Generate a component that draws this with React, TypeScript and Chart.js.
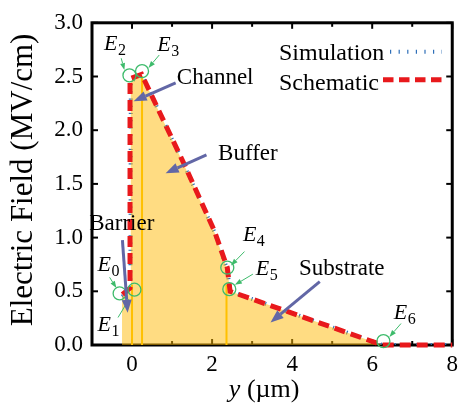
import React, { useEffect, useRef } from "react";
import { Chart, registerables } from "chart.js";
Chart.register(...registerables);

// ---- data (x in µm, y in MV/cm) ----
const simX = [-0.25, -0.04, -0.03, 0.25, 1.32, 2.05, 2.38, 2.45, 6.25, 8];
const simY = [0.45, 0.5, 2.46, 2.51, 1.66, 1.06, 0.7, 0.5, 0, 0];
const schX = [-0.24, -0.05, -0.05, 0.24, 1.32, 2.05, 2.38, 2.45, 6.25, 8];
const schY = [0.47, 0.53, 2.48, 2.52, 1.67, 1.07, 0.72, 0.5, 0, 0];
const markX = [0, 0.25, 2.36];
const markTop = [0.56, 2.5, 0.56];

const xMajor = [0, 2, 4, 6, 8];
const xMinor = [1, 3, 5, 7];
const yMajor = [0, 0.5, 1.0, 1.5, 2.0, 2.5, 3.0];

// E_n annotations
const eSubs = ["0", "1", "2", "3", "4", "5", "6"];
const eLabelX = [-0.86, -0.86, -0.70, 0.63, 2.77, 3.09, 6.54];
const eLabelY = [0.69, 0.135, 2.75, 2.74, 0.965, 0.65, 0.24];
const eCircX = [-0.31, 0.06, -0.064, 0.25, 2.38, 2.43, 6.28];
const eCircY = [0.48, 0.515, 2.51, 2.55, 0.72, 0.52, 0.036];
const eArrFromX = [-0.56, -0.35, -0.27, 0.68, 2.81, 3.02, 6.72];
const eArrFromY = [0.63, 0.256, 2.67, 2.70, 0.87, 0.66, 0.2];
const eArrToX = [-0.39, -0.07, -0.19, 0.41, 2.47, 2.57, 6.43];
const eArrToY = [0.53, 0.43, 2.56, 2.58, 0.74, 0.56, 0.075];

// region labels
const regText = ["Channel", "Buffer", "Barrier", "Substrate"];
const regX = [1.12, 2.15, -1.07, 4.17];
const regY = [2.43, 1.72, 1.07, 0.65];
const regTailX = [1.09, 1.86, -0.24, 4.69];
const regTailY = [2.44, 1.77, 0.976, 0.59];
const regHeadX = [0.04, 0.84, -0.11, 3.46];
const regHeadY = [2.27, 1.6, 0.3, 0.21];

const SERIF = "'Liberation Serif', 'Times New Roman', serif";
const RED = "#e8191c";
const BLUE = "#2f6fb8";
const GREEN = "#3dbb6b";
const SLATE = "#6267a6";

function arrow(ctx: CanvasRenderingContext2D, x1: number, y1: number, x2: number, y2: number, color: string, lw: number, hl: number, hw: number) {
  const ang = Math.atan2(y2 - y1, x2 - x1);
  const bx = x2 - Math.cos(ang) * hl;
  const by = y2 - Math.sin(ang) * hl;
  ctx.save();
  ctx.strokeStyle = color;
  ctx.fillStyle = color;
  ctx.lineWidth = lw;
  ctx.setLineDash([]);
  ctx.beginPath();
  ctx.moveTo(x1, y1);
  ctx.lineTo(bx, by);
  ctx.stroke();
  ctx.beginPath();
  ctx.moveTo(x2, y2);
  ctx.lineTo(bx + Math.sin(ang) * hw / 2, by - Math.cos(ang) * hw / 2);
  ctx.lineTo(bx - Math.sin(ang) * hw / 2, by + Math.cos(ang) * hw / 2);
  ctx.closePath();
  ctx.fill();
  ctx.restore();
}

const framePlugin = {
  id: "frame",
  beforeDatasetsDraw(chart: any) {
    const { ctx, chartArea: a, scales } = chart;
    const xs = scales.x, ys = scales.y;
    ctx.save();
    ctx.strokeStyle = "#000";
    ctx.lineWidth = 3;
    ctx.setLineDash([]);
    ctx.strokeRect(a.left, a.top, a.right - a.left, a.bottom - a.top);
    ctx.lineWidth = 2;
    const tick = (x1: number, y1: number, x2: number, y2: number) => {
      ctx.beginPath(); ctx.moveTo(x1, y1); ctx.lineTo(x2, y2); ctx.stroke();
    };
    xMajor.forEach((v) => {
      const p = xs.getPixelForValue(v);
      tick(p, a.bottom, p, a.bottom - 6);
      tick(p, a.top, p, a.top + 6);
    });
    xMinor.forEach((v) => {
      const p = xs.getPixelForValue(v);
      tick(p, a.bottom, p, a.bottom - 4);
      tick(p, a.top, p, a.top + 4);
    });
    yMajor.forEach((v) => {
      const p = ys.getPixelForValue(v);
      tick(a.left, p, a.left + 6, p);
      tick(a.right, p, a.right - 6, p);
    });
    ctx.restore();
  },
  afterDatasetsDraw(chart: any) {
    const { ctx, chartArea: a, scales } = chart;
    const X = (v: number) => scales.x.getPixelForValue(v);
    const Y = (v: number) => scales.y.getPixelForValue(v);
    ctx.save();
    for (let i = 0; i < eSubs.length; i++) {
      ctx.strokeStyle = GREEN;
      ctx.lineWidth = 1.3;
      ctx.setLineDash([]);
      ctx.beginPath();
      ctx.arc(X(eCircX[i]), Y(eCircY[i]), 6.5, 0, Math.PI * 2);
      ctx.stroke();
      arrow(ctx, X(eArrFromX[i]), Y(eArrFromY[i]), X(eArrToX[i]), Y(eArrToY[i]), GREEN, 1, 7, 5);
      ctx.fillStyle = "#000";
      ctx.textAlign = "left";
      ctx.textBaseline = "alphabetic";
      ctx.font = `italic 22px ${SERIF}`;
      const lx = X(eLabelX[i]), ly = Y(eLabelY[i]);
      ctx.fillText("E", lx, ly);
      const w = ctx.measureText("E").width;
      ctx.font = `16px ${SERIF}`;
      ctx.fillText(eSubs[i], lx + w + 0.5, ly + 5);
    }
    for (let i = 0; i < regText.length; i++) {
      ctx.fillStyle = "#000";
      ctx.font = `23px ${SERIF}`;
      ctx.textAlign = "left";
      ctx.textBaseline = "alphabetic";
      ctx.fillText(regText[i], X(regX[i]), Y(regY[i]));
      arrow(ctx, X(regTailX[i]), Y(regTailY[i]), X(regHeadX[i]), Y(regHeadY[i]), SLATE, 3, 13, 10);
    }
    // legend
    const lx0 = a.left + 187;
    ctx.fillStyle = "#000";
    ctx.font = `24px ${SERIF}`;
    ctx.textAlign = "left";
    ctx.fillText("Simulation", lx0, a.top + 37);
    ctx.fillText("Schematic", lx0, a.top + 67);
    ctx.strokeStyle = BLUE;
    ctx.lineWidth = 4;
    ctx.setLineDash([1.2, 7.4]);
    ctx.beginPath();
    ctx.moveTo(a.left + 298, a.top + 29);
    ctx.lineTo(a.left + 350, a.top + 29);
    ctx.stroke();
    ctx.strokeStyle = RED;
    ctx.lineWidth = 5;
    ctx.setLineDash([10.5, 5.5]);
    ctx.beginPath();
    ctx.moveTo(a.left + 291, a.top + 57);
    ctx.lineTo(a.left + 350, a.top + 57);
    ctx.stroke();
    ctx.setLineDash([]);
    // axis titles
    ctx.fillStyle = "#000";
    ctx.textBaseline = "alphabetic";
    ctx.font = `italic 26px ${SERIF}`;
    const t1 = "y";
    const t2 = " (\u00b5m)";
    const w1 = ctx.measureText(t1).width;
    ctx.font = `26px ${SERIF}`;
    const w2 = ctx.measureText(t2).width;
    const cx = (a.left + a.right) / 2 - 8;
    const sx = cx - (w1 + w2) / 2;
    ctx.font = `italic 26px ${SERIF}`;
    ctx.fillText(t1, sx, 397);
    ctx.font = `26px ${SERIF}`;
    ctx.fillText(t2, sx + w1, 397);
    ctx.translate(32, (a.top + a.bottom) / 2 - 4);
    ctx.rotate(-Math.PI / 2);
    ctx.textAlign = "center";
    ctx.font = `31px ${SERIF}`;
    ctx.fillText("Electric Field (MV/cm)", 0, 0);
    ctx.restore();
  },
};

export default function App() {
  const ref = useRef<HTMLCanvasElement | null>(null);
  useEffect(() => {
    document.body.style.margin = "0";
    const pts = (xs: number[], ys: number[]) => xs.map((x, i) => ({ x, y: ys[i] }));
    const markerSets = markX.map((x, i) => ({
      data: [{ x, y: 0 }, { x, y: markTop[i] }],
      showLine: true,
      borderColor: "#ffc000",
      borderWidth: 2,
      pointRadius: 0,
      fill: false,
      order: 3,
    }));
    const chart = new Chart(ref.current as HTMLCanvasElement, {
      type: "scatter",
      data: {
        datasets: [
          {
            label: "Schematic",
            data: pts(schX, schY),
            showLine: true,
            borderColor: RED,
            borderWidth: 5,
            borderDash: [11, 6],
            pointRadius: 0,
            fill: false,
            clip: false as any,
            order: 1,
          },
          ...markerSets,
          {
            label: "fill",
            data: pts(simX, simY),
            showLine: true,
            borderWidth: 0,
            borderColor: "rgba(0,0,0,0)",
            backgroundColor: "rgba(255,185,5,0.5)",
            pointRadius: 0,
            fill: "origin",
            order: 4,
          },
          {
            label: "Simulation",
            data: pts(simX, simY),
            showLine: true,
            borderColor: BLUE,
            borderWidth: 4,
            borderDash: [1.2, 6],
            pointRadius: 0,
            fill: false,
            order: 5,
          },
        ] as any,
      },
      options: {
        responsive: false,
        animation: false,
        layout: { padding: { top: 13, right: 7, left: 0, bottom: 0 } },
        plugins: { legend: { display: false }, tooltip: { enabled: false } },
        scales: {
          x: {
            type: "linear",
            min: -1,
            max: 8,
            grid: { display: false, drawTicks: false },
            border: { display: false },
            afterBuildTicks: (axis: any) => {
              axis.ticks = xMajor.map((v) => ({ value: v }));
            },
            afterFit: (scale: any) => {
              scale.height = 66;
            },
            ticks: {
              padding: 6,
              color: "#000",
              font: { family: SERIF, size: 23 },
              maxRotation: 0,
              callback: (v: any) => String(v),
            },
          },
          y: {
            type: "linear",
            min: 0,
            max: 3,
            grid: { display: false, drawTicks: false },
            border: { display: false },
            afterBuildTicks: (axis: any) => {
              axis.ticks = yMajor.map((v) => ({ value: v }));
            },
            afterFit: (scale: any) => {
              scale.width = 92;
            },
            ticks: {
              padding: 9,
              color: "#000",
              font: { family: SERIF, size: 23 },
              callback: (v: any) => Number(v).toFixed(1),
            },
          },
        },
      } as any,
      plugins: [framePlugin],
    });
    return () => chart.destroy();
  }, []);
  return (
    <div style={{ position: "fixed", left: 0, top: 0, width: 464, height: 411, background: "#fff" }}>
      <canvas ref={ref} width={464} height={411} style={{ width: 464, height: 411, display: "block" }} />
    </div>
  );
}
